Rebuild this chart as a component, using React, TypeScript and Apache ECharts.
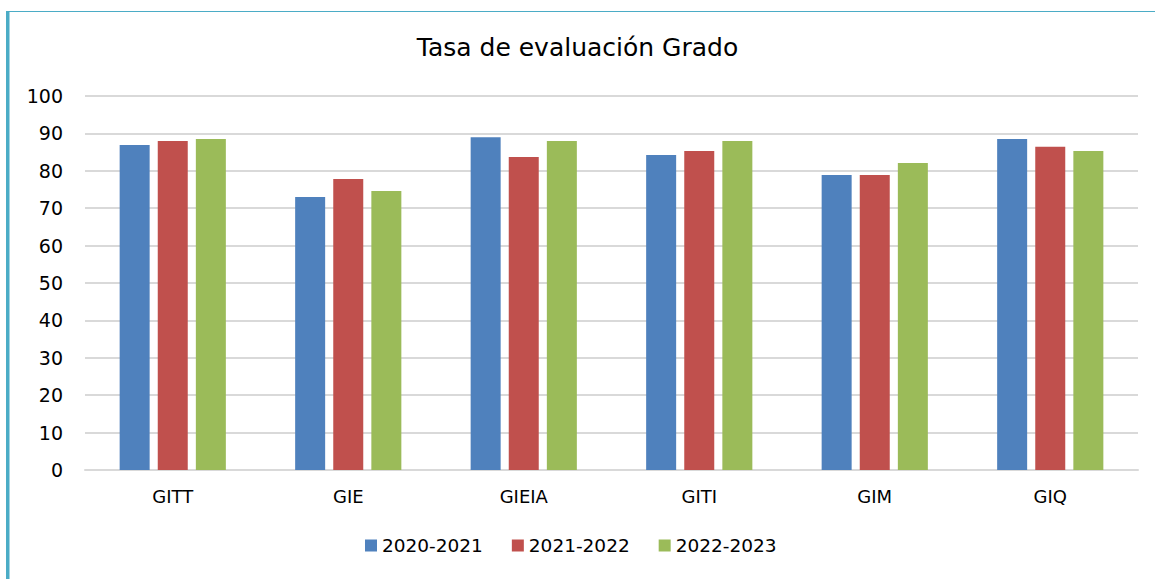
import React, { useEffect, useRef } from "react";
import * as echarts from "echarts";

const categories = ["GITT", "GIE", "GIEIA", "GITI", "GIM", "GIQ"];
const seriesNames = ["2020-2021", "2021-2022", "2022-2023"];
const s2020 = [86.9, 73.0, 89.0, 84.2, 78.9, 88.5];
const s2021 = [88.0, 77.8, 83.7, 85.3, 78.9, 86.4];
const s2022 = [88.5, 74.6, 88.0, 88.0, 82.1, 85.3];
const colors = ["#4F81BD", "#C0504D", "#9BBB59"];

export default function App() {
  const ref = useRef<HTMLDivElement>(null);
  useEffect(() => {
    if (!ref.current) return;
    const chart = echarts.init(ref.current, null, { renderer: "svg" });
    const font = "'DejaVu Sans', Verdana, sans-serif";
    const data = [s2020, s2021, s2022];
    chart.setOption({
      animation: false,
      backgroundColor: "#ffffff",
      title: {
        text: "Tasa de evaluación Grado",
        left: "center",
        top: 30,
        textStyle: { fontFamily: font, fontSize: 25, fontWeight: "normal", color: "#000" },
      },
      graphic: [
        { type: "rect", shape: { x: 6, y: 11, width: 3, height: 568 }, style: { fill: "#4BACC6" } },
        { type: "rect", shape: { x: 9, y: 11, width: 1, height: 568 }, style: { fill: "#A5D5E2" } },
        { type: "rect", shape: { x: 6, y: 11, width: 1149, height: 1 }, style: { fill: "#4BACC6" } },
      ],
      legend: {
        bottom: 19,
        left: 360,
        itemWidth: 12,
        itemHeight: 12,
        itemGap: 29,
        icon: "rect",
        textStyle: { fontFamily: font, fontSize: 18.5, color: "#000", padding: [0, 0, 0, 0] },
        data: seriesNames,
      },
      grid: { left: 85, right: 17, top: 96, bottom: 109 },
      xAxis: {
        type: "category",
        data: categories,
        axisTick: { show: false },
        axisLine: { lineStyle: { color: "#D9D9D9", width: 2 } },
        axisLabel: { fontFamily: font, fontSize: 18, color: "#000", margin: 17 },
      },
      yAxis: {
        type: "value",
        min: 0,
        max: 100,
        interval: 10,
        axisLine: { show: false },
        axisTick: { show: false },
        splitLine: { lineStyle: { color: "#D9D9D9", width: 2 } },
        axisLabel: { fontFamily: font, fontSize: 19, color: "#000", margin: 22 },
      },
      series: seriesNames.map((name, i) => ({
        name,
        type: "bar",
        data: data[i],
        barWidth: 30,
        barGap: "27%",
        itemStyle: { color: colors[i] },
      })),
    });
    return () => chart.dispose();
  }, []);
  return (
    <div
      ref={ref}
      style={{ position: "absolute", left: 0, top: 0, width: 1155, height: 579 }}
    />
  );
}
